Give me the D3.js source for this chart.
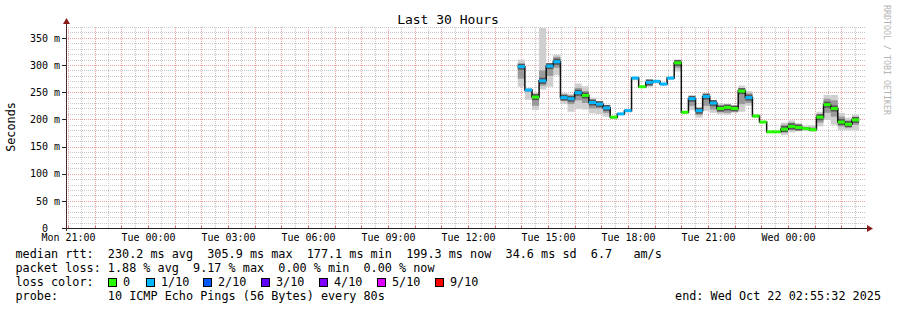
<!DOCTYPE html>
<html lang="en">
<head>
<meta charset="UTF-8">
<style>
  html, body { margin:0; padding:0; background:#fff; }
  svg { display:block; font-family:"DejaVu Sans Mono", monospace; }
  .grid-minor { stroke:#c8c8c8; stroke-dasharray:1,1; shape-rendering:crispEdges; }
  .grid-major { stroke:#eda3a3; stroke-dasharray:1,1; shape-rendering:crispEdges; }
  .tick-label { font-size:10px; fill:#000; }
  .legend { font-size:11.8px; fill:#000; white-space:pre; }
</style>
<script src="https://d3js.org/d3.v7.min.js"></script>
</head>
<body>
<svg id="chart" width="897" height="310"></svg>
<script>
// time window of the graph
const startTime = "2025-10-20T20:55:32Z";
const endTime = "2025-10-22T02:55:32Z";
// data steps (16 min consolidated rows) start here
const firstStep = "2025-10-21T13:52:00Z";
const stepMinutes = 16;

// median rtt in ms, one per step
const medianRtt = [297, 254, 241, 271, 298, 306, 240, 238, 249, 244, 231, 228,
                   221, 204, 210, 216, 276, 260, 268, 270, 265, 276, 304, 213,
                   238, 216, 242, 230, 220, 222, 220, 252, 240, 206, 195, 177,
                   177, 182, 187, 185, 183, 181, 204, 227, 220, 195, 191, 199];
// loss level per step (0 = no loss, 1 = 1/10)
const lossLevel = [1, 1, 0, 1, 1, 1, 1, 1, 1, 0, 1, 1,
                   1, 0, 1, 1, 1, 0, 1, 1, 1, 1, 0, 0,
                   1, 1, 1, 1, 0, 0, 0, 0, 1, 0, 0, 0,
                   0, 0, 0, 0, 0, 0, 0, 0, 0, 0, 0, 0];
// smoke: outer (min/max) and inner band
const smokeMin = [260, 236, 217, 255, 260, 281, 228, 214, 219, 218, 211, 210,
                  205, 201, 208, 213, 272, 258, 260, 266, 262, 273, 288, 211,
                  217, 203, 216, 212, 209, 208, 212, 214, 225, 203, 193, 176,
                  176, 171, 176, 178, 179, 177, 187, 199, 190, 180, 180, 180];
const smokeMax = [310, 258, 249, 368, 303, 319, 249, 247, 266, 261, 240, 232,
                  226, 206, 212, 219, 277, 262, 270, 271, 267, 277, 309, 214,
                  239, 217, 243, 232, 229, 226, 225, 262, 252, 210, 197, 178,
                  178, 194, 198, 193, 188, 189, 214, 245, 245, 212, 203, 208];
const smokeLow = [275, 250, 225, 262, 280, 295, 235, 228, 235, 230, 220, 220,
                  212, 202, 209, 214, 274, 259, 262, 268, 264, 274, 295, 212,
                  225, 208, 225, 218, 213, 212, 215, 228, 230, 204, 194, 176,
                  176, 176, 180, 181, 181, 179, 194, 212, 205, 187, 185, 190];
const smokeHigh = [302, 256, 247, 290, 302, 315, 245, 243, 258, 252, 236, 230,
                   224, 205, 211, 218, 277, 261, 269, 270, 266, 277, 307, 214,
                   238, 216, 241, 230, 225, 224, 223, 255, 248, 208, 196, 178,
                   178, 190, 194, 190, 186, 185, 210, 238, 235, 205, 198, 204];

const yTicks = [0, 50, 100, 150, 200, 250, 300, 350];
const xTicks = ["2025-10-20T21:00:00Z", "2025-10-21T00:00:00Z", "2025-10-21T03:00:00Z",
                "2025-10-21T06:00:00Z", "2025-10-21T09:00:00Z", "2025-10-21T12:00:00Z",
                "2025-10-21T15:00:00Z", "2025-10-21T18:00:00Z", "2025-10-21T21:00:00Z",
                "2025-10-22T00:00:00Z"];

const lossColors = ["#26ff00", "#00b8ff", "#0059ff", "#5e00ff", "#7e00ff", "#dd00ff", "#ff0000"];
const lossLabels = ["0", "1/10", "2/10", "3/10", "4/10", "5/10", "9/10"];

const statLines = [
  "median rtt:  230.2 ms avg  305.9 ms max  177.1 ms min  199.3 ms now  34.6 ms sd  6.7   am/s",
  "packet loss: 1.88 % avg  9.17 % max  0.00 % min  0.00 % now",
  "loss color:",
  "probe:       10 ICMP Echo Pings (56 Bytes) every 80s"
];

const svg = d3.select("#chart");
const plotL = 66, plotR = 866, plotT = 27, plotB = 228;

const x = d3.scaleUtc()
  .domain([new Date(startTime), new Date(endTime)])
  .range([plotL, plotR]);
const y = d3.scaleLinear().domain([0, 370]).range([plotB, plotT]);

// grid
const grid = svg.append("g");
grid.selectAll(".hmin").data(d3.range(10, 371, 10).filter(v => v % 50))
  .enter().append("line").attr("class", "grid-minor")
  .attr("x1", plotL).attr("x2", plotR)
  .attr("y1", d => Math.round(y(d)) + 0.5).attr("y2", d => Math.round(y(d)) + 0.5);
grid.selectAll(".vmin").data(x.ticks(d3.utcMinute.every(30)).filter(d => d.getUTCMinutes() == 30))
  .enter().append("line").attr("class", "grid-minor")
  .attr("y1", plotT).attr("y2", plotB)
  .attr("x1", d => Math.round(x(d)) + 0.5).attr("x2", d => Math.round(x(d)) + 0.5);
grid.selectAll(".hmaj").data(yTicks.slice(1))
  .enter().append("line").attr("class", "grid-major")
  .attr("x1", plotL).attr("x2", plotR)
  .attr("y1", d => Math.round(y(d)) + 0.5).attr("y2", d => Math.round(y(d)) + 0.5);
grid.selectAll(".vmaj").data(x.ticks(d3.utcHour.every(1)))
  .enter().append("line").attr("class", "grid-major")
  .attr("y1", plotT).attr("y2", plotB)
  .attr("x1", d => Math.round(x(d)) + 0.5).attr("x2", d => Math.round(x(d)) + 0.5);

// steps
const t0 = new Date(firstStep);
const steps = medianRtt.map((m, i) => ({
  t: new Date(t0.getTime() + i * stepMinutes * 60000),
  t1: new Date(t0.getTime() + (i + 1) * stepMinutes * 60000),
  med: m, loss: lossLevel[i],
  min: smokeMin[i], max: smokeMax[i], lo: smokeLow[i], hi: smokeHigh[i]
}));

const smoke = svg.append("g");
smoke.selectAll(".outer").data(steps).enter().append("rect")
  .attr("x", d => x(d.t)).attr("width", d => x(d.t1) - x(d.t))
  .attr("y", d => y(d.max)).attr("height", d => y(d.min) - y(d.max))
  .attr("fill", "#cfcfcf");
smoke.selectAll(".inner").data(steps).enter().append("rect")
  .attr("x", d => x(d.t)).attr("width", d => x(d.t1) - x(d.t))
  .attr("y", d => y(d.hi)).attr("height", d => y(d.lo) - y(d.hi))
  .attr("fill", "#9a9a9a");
smoke.selectAll(".core").data(steps).enter().append("rect")
  .attr("x", d => x(d.t)).attr("width", d => x(d.t1) - x(d.t))
  .attr("y", d => y(d.med) - 3).attr("height", 6)
  .attr("fill", "#555")
  .attr("opacity", d => (d.hi - d.lo) > 6 ? 1 : 0);

// median step line
const linePts = steps.map(d => [x(d.t), y(d.med)]);
linePts.push([x(steps[steps.length - 1].t1), y(steps[steps.length - 1].med)]);
svg.append("path")
  .attr("d", d3.line().curve(d3.curveStepAfter)(linePts))
  .attr("fill", "none").attr("stroke", "#111").attr("stroke-width", 1.5);

svg.append("g").selectAll("line").data(steps).enter().append("line")
  .attr("x1", d => x(d.t)).attr("x2", d => x(d.t1))
  .attr("y1", d => y(d.med)).attr("y2", d => y(d.med))
  .attr("stroke", d => lossColors[d.loss]).attr("stroke-width", 3);

// axes lines
svg.append("line").attr("x1", plotL - 4).attr("x2", plotR + 1)
  .attr("y1", plotB + 0.5).attr("y2", plotB + 0.5).attr("stroke", "#222");
svg.append("line").attr("x1", plotL + 0.5).attr("x2", plotL + 0.5)
  .attr("y1", plotB + 3).attr("y2", plotT - 4).attr("stroke", "#4a2a2a");
svg.append("path").attr("d", `M${plotR + 1},${plotB - 3}L${plotR + 7},${plotB + 0.5}L${plotR + 1},${plotB + 4}Z`)
  .attr("fill", "#8b1a1a");
svg.append("path").attr("d", `M${plotL - 3},${plotT - 3}L${plotL + 0.5},${plotT - 9}L${plotL + 4},${plotT - 3}Z`)
  .attr("fill", "#8b1a1a");

// small ticks
svg.append("g").selectAll("line").data(x.ticks(d3.utcHour.every(1)))
  .enter().append("line")
  .attr("x1", d => Math.round(x(d)) + 0.5).attr("x2", d => Math.round(x(d)) + 0.5)
  .attr("y1", plotB - 2).attr("y2", plotB)
  .attr("stroke", "#e07070");
svg.append("g").selectAll("line").data(yTicks)
  .enter().append("line")
  .attr("x1", plotL - 4).attr("x2", plotL)
  .attr("y1", d => Math.round(y(d)) + 0.5).attr("y2", d => Math.round(y(d)) + 0.5)
  .attr("stroke", "#222");

// tick labels
const xAxis = svg.append("g").attr("transform", `translate(0,${plotB})`)
  .call(d3.axisBottom(x).tickValues(xTicks.map(s => new Date(s)))
    .tickSize(0).tickPadding(6).tickFormat(d3.utcFormat("%a %H:%M")));
xAxis.select(".domain").remove();
xAxis.selectAll("text").attr("class", "tick-label");

const yAxis = svg.append("g").attr("transform", `translate(${plotL - 6},0)`)
  .call(d3.axisLeft(y).tickValues(yTicks).tickSize(0).tickPadding(0)
    .tickFormat(d => d === 0 ? "0\u00a0\u00a0" : d + " m"));
yAxis.select(".domain").remove();
yAxis.selectAll("text").attr("class", "tick-label");
xAxis.attr("font-family", null).attr("font-size", null);
yAxis.attr("font-family", null).attr("font-size", null);

// title and labels
svg.append("text").attr("x", 448).attr("y", 24).attr("text-anchor", "middle")
  .attr("font-size", 13).text("Last 30 Hours");
svg.append("text").attr("transform", "translate(15,127) rotate(-90)")
  .attr("text-anchor", "middle").attr("font-size", 11.8).text("Seconds");
svg.append("text").attr("transform", "translate(884,5) rotate(90)")
  .attr("font-size", 8.3).attr("fill", "#b4b4b4").text("RRDTOOL / TOBI OETIKER");

// legend
svg.append("g").selectAll("text").data(statLines).enter().append("text")
  .attr("class", "legend").attr("x", 15.5).attr("y", (d, i) => 258 + i * 14)
  .text(d => d);

const boxX = [108, 146, 203, 261, 319, 377, 435];
const lg = svg.append("g").selectAll("g").data(lossColors).enter().append("g");
lg.append("rect").attr("x", (d, i) => boxX[i] + 0.5).attr("y", 278.5)
  .attr("width", 8).attr("height", 8).attr("fill", d => d).attr("stroke", "#000");
lg.append("text").attr("class", "legend").attr("x", (d, i) => boxX[i] + 15).attr("y", 286)
  .text((d, i) => lossLabels[i]);

svg.append("text").attr("class", "legend").attr("x", 881).attr("y", 300)
  .attr("text-anchor", "end").text("end: Wed Oct 22 02:55:32 2025");
</script>
</body>
</html>
